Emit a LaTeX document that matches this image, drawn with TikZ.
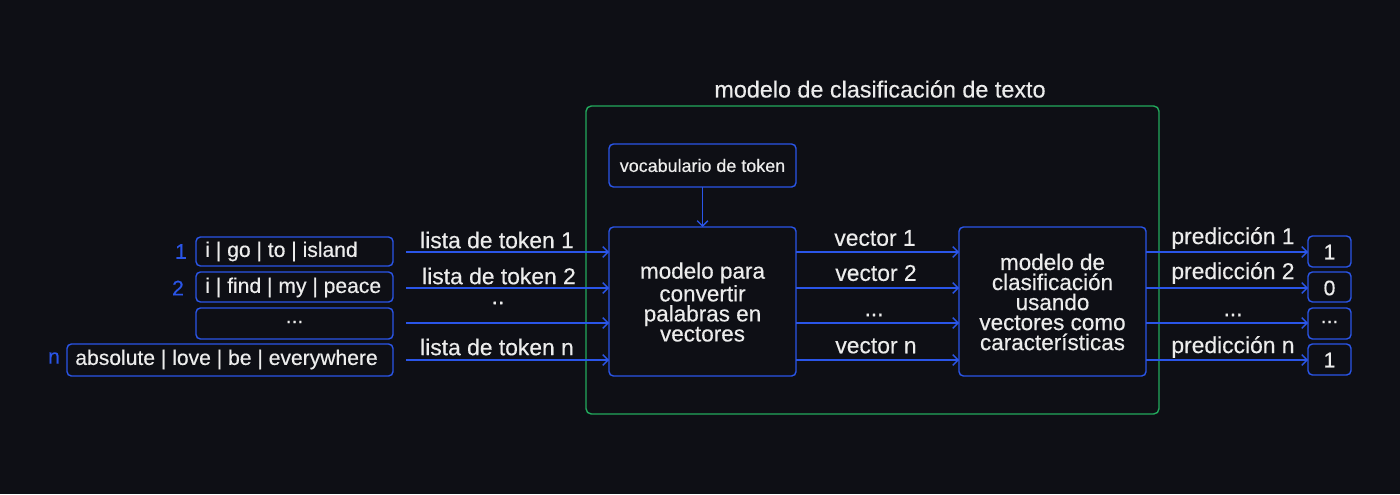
\documentclass[tikz,border=0pt]{standalone}
\usepackage{fontspec}
\setmainfont{Liberation Sans}[FakeBold=0.4]
\usetikzlibrary{arrows.meta}
\definecolor{bg}{HTML}{0E0F15}
\definecolor{bl}{HTML}{2A55E8}
\definecolor{gr}{HTML}{22A95C}
\definecolor{tx}{HTML}{ECECEC}
\tikzset{
  px/.style={x=0.02cm,y=-0.02cm},
  bbox/.style={draw=bl, line width=0.8pt, rounded corners=2.5pt, fill=bg},
  arr/.style={draw=bl, line width=0.8pt, -{Straight Barb[length=3pt,width=6pt]}},
  lbl/.style={text=tx, font=\fontsize{13}{14}\selectfont, inner sep=0pt},
  boxtxt/.style={text=tx, font=\fontsize{12}{13}\selectfont},
  mtxt/.style={text=tx, align=center, font=\fontsize{12.8}{11.4}\selectfont},
  numlbl/.style={text=bl, font=\fontsize{12}{13}\selectfont, inner sep=0pt},
}
\begin{document}
\begin{tikzpicture}[px]
\fill[bg] (0,0) rectangle (1400,494);
\useasboundingbox (0,0) rectangle (1400,494);
% green frame
\draw[gr, line width=0.8pt, rounded corners=3pt] (586,106) rectangle (1159,414);
\node[text=tx, font=\fontsize{13.3}{15}\selectfont, inner sep=0pt] (title) at (880,89) {modelo de clasificación de texto};
% vocab
\draw[bbox] (609,144) rectangle (796,187);
\node[text=tx, font=\fontsize{10.2}{12}\selectfont, inner sep=0pt] (voc) at (702.5,165.5) {vocabulario de token};
\coordinate (vocS) at (702.5,187);
% model boxes
\draw[bbox] (609,227) rectangle (796,376);
\node[mtxt] (m1) at (702.5,302) {modelo para\\convertir\\palabras en\\vectores};
\coordinate (m1N) at (702.5,227);
\draw[bbox] (959,227) rectangle (1146,376);
\node[mtxt] (m2) at (1052.5,302) {modelo de\\clasificación\\usando\\vectores como\\características};
\draw[arr] (vocS) -- (m1N);
% input boxes
\draw[bbox] (196,237) rectangle (393,266);
\node[boxtxt, anchor=west, inner sep=0pt] (in1) at (205,251.5) {i | go | to | island};
\draw[bbox] (196,272) rectangle (393,302);
\node[boxtxt, anchor=west, inner sep=0pt] (in2) at (205,287.5) {i | find | my | peace};
\draw[bbox] (196,308) rectangle (393,339);
\node[boxtxt, inner sep=0pt] (in3) at (294.5,322) {...};
\draw[bbox] (67,344) rectangle (393,376);
\node[boxtxt, anchor=west, inner sep=0pt] (in4) at (75,359.5) {absolute | love | be | everywhere};
\node[numlbl] (n1) at (181,251.5) {1};
\node[numlbl] (n2) at (178,288) {2};
\node[numlbl] (n4) at (54,358) {n};
% input arrows
\foreach \y/\n in {252/a1,288/a2,323/a3,360/a4}{
  \coordinate (\n s) at (406,\y);
  \coordinate (\n e) at (609,\y);
  \draw[arr] (\n s) -- (\n e);
}
\node[lbl] (l1) at (497,240) {lista de token 1};
\node[lbl] (l2) at (499,276) {lista de token 2};
\node[lbl] (l3) at (498,303) {..};
\node[lbl] (l4) at (497,347) {lista de token n};
% vector arrows
\foreach \y/\n in {252/b1,288/b2,323/b3,360/b4}{
  \coordinate (\n s) at (796,\y);
  \coordinate (\n e) at (959,\y);
  \draw[arr] (\n s) -- (\n e);
}
\node[lbl] (v1) at (875,238) {vector 1};
\node[lbl] (v2) at (876,273) {vector 2};
\node[lbl] (v3) at (874,315) {...};
\node[lbl] (v4) at (876,346) {vector n};
% prediction arrows
\foreach \y/\n in {252/c1,288/c2,323/c3,360/c4}{
  \coordinate (\n s) at (1146,\y);
  \coordinate (\n e) at (1308,\y);
  \draw[arr] (\n s) -- (\n e);
}
\node[lbl] (p1) at (1233,238) {predicción 1};
\node[lbl] (p2) at (1233,273) {predicción 2};
\node[lbl] (p3) at (1233,315) {...};
\node[lbl] (p4) at (1233,347) {predicción n};
% output boxes
\draw[bbox] (1308,236) rectangle (1351,267);
\node[boxtxt, inner sep=0pt] (o1) at (1329.5,252) {1};
\draw[bbox] (1308,272) rectangle (1351,302);
\node[boxtxt, inner sep=0pt] (o2) at (1329.5,288) {0};
\draw[bbox] (1308,308) rectangle (1351,339);
\node[boxtxt, inner sep=0pt] (o3) at (1329.5,322) {...};
\draw[bbox] (1308,344) rectangle (1351,375);
\node[boxtxt, inner sep=0pt] (o4) at (1329.5,360) {1};
\end{tikzpicture}
\end{document}
